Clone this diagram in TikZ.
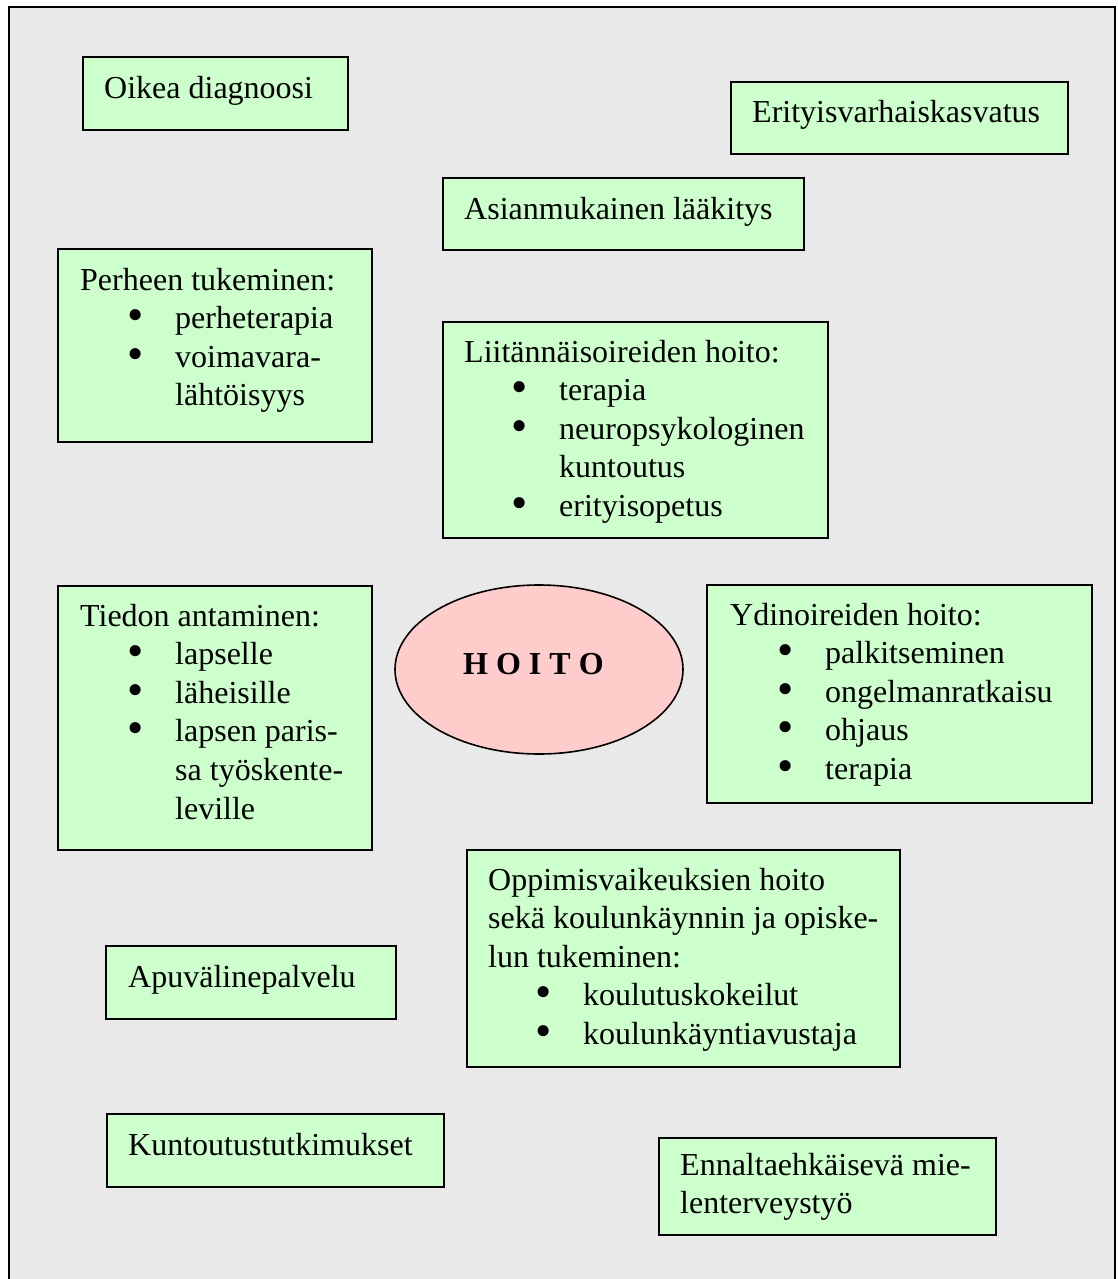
\documentclass[tikz,border=0pt]{standalone}
\usepackage{fontspec}
\usepackage{graphicx}
\setmainfont{Liberation Serif}
\usetikzlibrary{shapes.geometric}
\definecolor{bgray}{HTML}{E9E9E9}
\definecolor{boxgreen}{HTML}{CCFFCC}
\definecolor{ellpink}{HTML}{FFCCCC}
\newcommand\txtlines[1]{\vtop{\hsize=450pt\parindent=0pt\baselineskip=38.6pt\lineskiplimit=-50pt\raggedright #1}}
\newcommand\itm[1]{\hspace*{47pt}\makebox[48pt][l]{\smash{\raisebox{-2pt}{\scalebox{1.45}{\textbullet}}}}#1}
\newcommand\cont[1]{\hspace*{95pt}#1}
\tikzset{
  frame/.style={draw=black, line width=2pt, fill=bgray},
  greenbox/.style={draw=black, line width=1.6pt, fill=boxgreen, rectangle, inner sep=0pt},
  pinkell/.style={draw=black, line width=1.6pt, fill=ellpink, ellipse, inner sep=0pt},
  txt/.style={anchor=base west, inner sep=0pt, font=\fontsize{32pt}{38.6pt}\selectfont}
}
\begin{document}
\begin{tikzpicture}[x=1pt,y=-1pt]
\useasboundingbox (0,0) rectangle (1117,1279);
\fill[white] (0,0) rectangle (1117,1279);
\draw[frame] (9,7) rectangle (1115,1300);

% boxes
\node[greenbox, minimum width=265pt, minimum height=73pt] (diag) at (215.5,93.5) {};
\node[greenbox, minimum width=337pt, minimum height=72pt] (erit) at (899.5,118) {};
\node[greenbox, minimum width=361pt, minimum height=72pt] (laak) at (623.5,214) {};
\node[greenbox, minimum width=314pt, minimum height=193pt] (perh) at (215,345.5) {};
\node[greenbox, minimum width=385pt, minimum height=216pt] (liit) at (635.5,430) {};
\node[greenbox, minimum width=314pt, minimum height=264pt] (tied) at (215,718) {};
\node[greenbox, minimum width=385pt, minimum height=218pt] (ydin) at (899.5,694) {};
\node[greenbox, minimum width=433pt, minimum height=217pt] (oppi) at (683.5,958.5) {};
\node[greenbox, minimum width=290pt, minimum height=73pt] (apuv) at (251,982.5) {};
\node[greenbox, minimum width=337pt, minimum height=73pt] (kunt) at (275.5,1150.5) {};
\node[greenbox, minimum width=337pt, minimum height=97pt] (enna) at (827.5,1186.5) {};
\node[pinkell, minimum width=288pt, minimum height=169pt] (hoito) at (539,669.5) {};

% texts
\node[txt] (diag-t) at (104,99) {Oikea diagnoosi};
\node[txt] (erit-t) at (752,123) {Erityisvarhaiskasvatus};
\node[txt] (laak-t) at (464,219) {Asianmukainen lääkitys};
\node[txt] (perh-t) at (80,290) {\txtlines{Perheen tukeminen:\\
\itm{perheterapia}\\
\itm{voimavara-}\\
\cont{lähtöisyys}}};
\node[txt] (liit-t) at (464,362) {\txtlines{Liitännäisoireiden hoito:\\
\itm{terapia}\\
\itm{neuropsykologinen}\\
\cont{kuntoutus}\\
\itm{erityisopetus}}};
\node[txt] (tied-t) at (80,626) {\txtlines{Tiedon antaminen:\\
\itm{lapselle}\\
\itm{läheisille}\\
\itm{lapsen paris-}\\
\cont{sa työskente-}\\
\cont{leville}}};
\node[txt] (ydin-t) at (730,625) {\txtlines{Ydinoireiden hoito:\\
\itm{palkitseminen}\\
\itm{ongelmanratkaisu}\\
\itm{ohjaus}\\
\itm{terapia}}};
\node[txt] (oppi-t) at (488,890) {\txtlines{Oppimisvaikeuksien hoito\\
sekä koulunkäynnin ja opiske-\\
lun tukeminen:\\
\itm{koulutuskokeilut}\\
\itm{koulunkäyntiavustaja}}};
\node[txt] (apuv-t) at (128,987) {Apuvälinepalvelu};
\node[txt] (kunt-t) at (128,1155) {Kuntoutustutkimukset};
\node[txt] (enna-t) at (680,1175) {\txtlines{Ennaltaehkäisevä mie-\\
lenterveystyö}};
\node[txt, font=\fontsize{32pt}{38.6pt}\selectfont\bfseries] (hoito-t) at (463,674) {H O I T O};
\end{tikzpicture}
\end{document}
